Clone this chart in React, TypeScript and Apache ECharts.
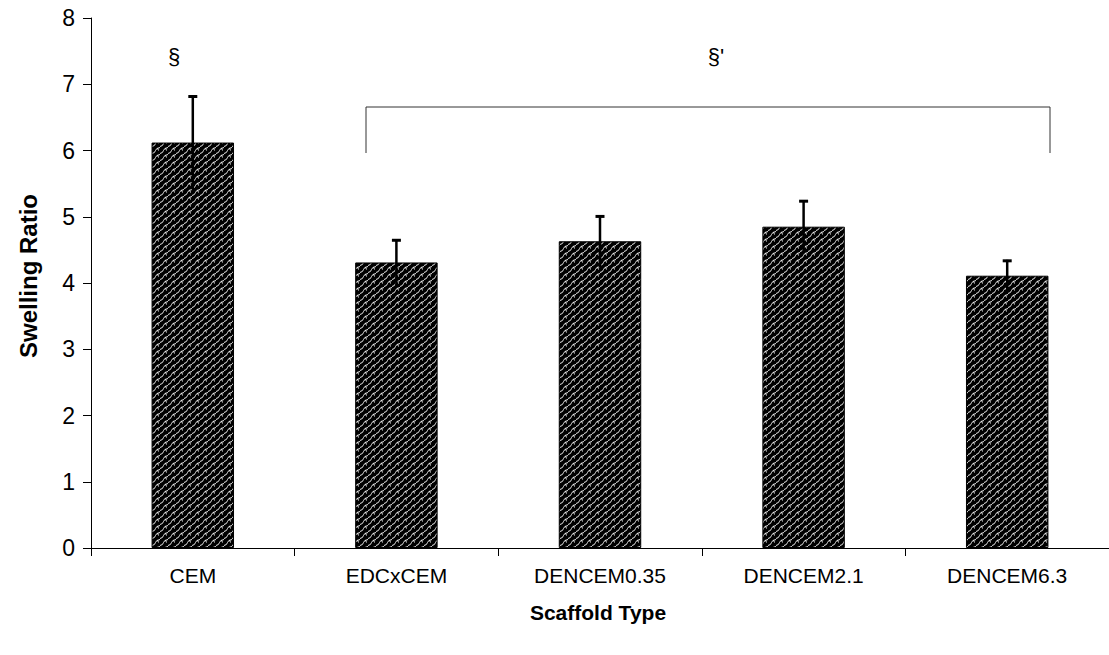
import React, { useEffect, useRef } from 'react';
import * as echarts from 'echarts';

const categories = ['CEM', 'EDCxCEM', 'DENCEM0.35', 'DENCEM2.1', 'DENCEM6.3'];
const values = [6.12, 4.31, 4.63, 4.85, 4.11];
const errors = [0.71, 0.35, 0.39, 0.4, 0.24];
const annotations = ['§', "§'"];
const yMin = 0;
const yMax = 8;
const yInterval = 1;

const FONT = "Arial, 'Liberation Sans', Helvetica, sans-serif";

function makePattern(): HTMLCanvasElement {
  const c = document.createElement('canvas');
  c.width = 8;
  c.height = 7;
  const ctx = c.getContext('2d')!;
  ctx.fillStyle = '#000';
  ctx.fillRect(0, 0, 8, 7);
  ctx.strokeStyle = '#e8e8e8';
  ctx.lineWidth = 1;
  ctx.beginPath();
  ctx.moveTo(0, 6.5);
  ctx.quadraticCurveTo(3, 6, 3.5, 3.5);
  ctx.quadraticCurveTo(4, 1, 8, 0.5);
  ctx.stroke();
  ctx.beginPath();
  ctx.moveTo(5.5, 1);
  ctx.lineTo(6.5, 3.5);
  ctx.stroke();
  return c;
}

export default function App() {
  const ref = useRef<HTMLDivElement>(null);
  useEffect(() => {
    if (!ref.current) return;
    const chart = echarts.init(ref.current, undefined, { renderer: 'svg' });
    const pattern = makePattern();
    chart.setOption({
      animation: false,
      backgroundColor: '#fff',
      grid: { left: 91, right: -6, top: 18, bottom: 107 },
      xAxis: {
        type: 'category',
        data: categories,
        boundaryGap: true,
        axisLine: { lineStyle: { color: '#000', width: 1 } },
        axisTick: { show: true, alignWithLabel: false, length: 8, lineStyle: { color: '#000' } },
        axisLabel: { color: '#000', fontSize: 21, fontFamily: FONT, margin: 17 },
        splitLine: { show: false },
      },
      yAxis: {
        type: 'value',
        min: yMin,
        max: yMax,
        interval: yInterval,
        axisLine: { show: true, lineStyle: { color: '#000', width: 1 } },
        axisTick: { show: true, length: 8, lineStyle: { color: '#000' } },
        axisLabel: { color: '#000', fontSize: 23, fontFamily: FONT, margin: 16 },
        splitLine: { show: false },
      },
      series: [
        {
          type: 'bar',
          data: values,
          barWidth: '40.5%',
          itemStyle: {
            color: { image: pattern, repeat: 'repeat' } as any,
            borderColor: '#000',
            borderWidth: 1,
          },
        },
        {
          type: 'custom',
          data: categories.map((_, i) => [i, values[i], errors[i]]),
          renderItem: (params: any, api: any) => {
            const x = api.value(0);
            const v = api.value(1);
            const e = api.value(2);
            const top = api.coord([x, v + e]);
            const bot = api.coord([x, v - e]);
            return {
              type: 'group',
              children: [
                {
                  type: 'line',
                  shape: { x1: top[0], y1: top[1], x2: bot[0], y2: bot[1] },
                  style: { stroke: '#000', lineWidth: 2.5 },
                },
                {
                  type: 'line',
                  shape: { x1: top[0] - 4.5, y1: top[1] + 1, x2: top[0] + 4.5, y2: top[1] + 1 },
                  style: { stroke: '#000', lineWidth: 3 },
                },
              ],
            };
          },
          z: 5,
        },
      ],
      graphic: [
        {
          type: 'text',
          x: 28,
          y: 276,
          rotation: Math.PI / 2,
          style: {
            text: 'Swelling Ratio',
            font: `bold 24px ${FONT}`,
            fill: '#000',
            align: 'center',
            verticalAlign: 'middle',
          },
        },
        {
          type: 'text',
          x: 598,
          y: 612,
          style: {
            text: 'Scaffold Type',
            font: `bold 21px ${FONT}`,
            fill: '#000',
            align: 'center',
            verticalAlign: 'middle',
          },
        },
        {
          type: 'text',
          x: 174,
          y: 56,
          style: {
            text: annotations[0],
            font: `22px ${FONT}`,
            fill: '#000',
            align: 'center',
            verticalAlign: 'middle',
          },
        },
        {
          type: 'text',
          x: 716,
          y: 56,
          style: {
            text: annotations[1],
            font: `22px ${FONT}`,
            fill: '#000',
            align: 'center',
            verticalAlign: 'middle',
          },
        },
        {
          type: 'polyline',
          shape: { points: [[366, 153], [366, 107], [1050, 107], [1050, 153]] },
          style: { stroke: '#333', lineWidth: 1, fill: 'none' },
        },
      ],
    });
    return () => chart.dispose();
  }, []);
  return (
    <div
      ref={ref}
      style={{ position: 'fixed', left: 0, top: 0, width: 1109, height: 655, background: '#fff' }}
    />
  );
}
